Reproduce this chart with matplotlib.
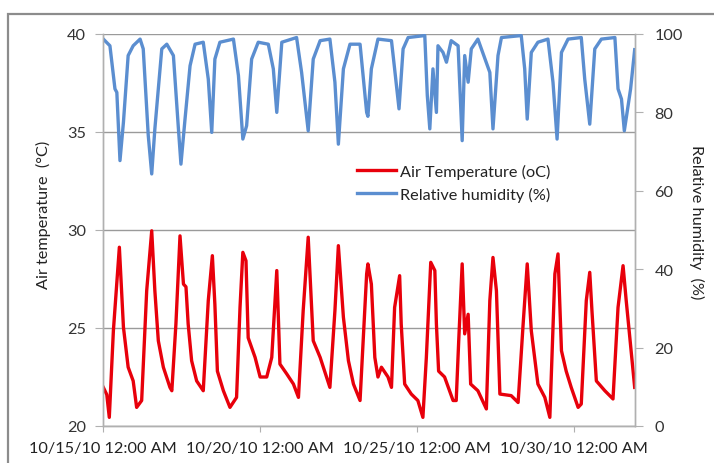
import datetime as dt
import matplotlib
matplotlib.use("Agg")
import matplotlib.pyplot as plt
import matplotlib.dates as mdates
from matplotlib.patches import Rectangle

# ---- data (days since 10/15/2010 00:00) ----
temp_days = [0.02, 0.13, 0.21, 0.34, 0.53, 0.66, 0.81, 0.97, 1.08, 1.24, 1.40, 1.56, 1.66, 1.77,
             1.93, 2.14, 2.20, 2.33, 2.46, 2.57, 2.65, 2.72, 2.83, 2.99, 3.20, 3.36, 3.49, 3.57,
             3.65, 3.84, 4.05, 4.26, 4.37, 4.46, 4.56, 4.63, 4.85, 5.01, 5.22, 5.38, 5.54, 5.64,
             5.86, 6.07, 6.23, 6.38, 6.54, 6.70, 6.92, 7.23, 7.39, 7.50, 7.66, 7.82, 7.98, 8.19,
             8.40, 8.44, 8.55, 8.66, 8.76, 8.87, 9.08, 9.19, 9.29, 9.45, 9.50, 9.61, 9.82, 10.03,
             10.19, 10.30, 10.44, 10.57, 10.62, 10.69, 10.88, 11.15, 11.25, 11.33, 11.44, 11.52,
             11.63, 11.71, 11.94, 12.21, 12.32, 12.42, 12.53, 12.64, 13.00, 13.22, 13.38, 13.51,
             13.64, 13.85, 14.07, 14.23, 14.39, 14.49, 14.60, 14.75, 14.91, 15.13, 15.23, 15.39,
             15.50, 15.57, 15.71, 15.98, 16.24, 16.40, 16.56, 16.66, 16.93]
temp_vals = [21.97, 21.6, 20.44, 24.86, 29.12, 25.04, 23.0, 22.3, 20.95, 21.3, 26.9, 29.96, 26.9, 24.35,
             23.0, 21.97, 21.8, 25.2, 29.7, 27.24, 27.1, 25.2, 23.33, 22.3, 21.8, 26.4, 28.69, 26.2,
             22.8, 21.8, 20.95, 21.46, 26.05, 28.86, 28.43, 24.5, 23.5, 22.5, 22.5, 23.5, 27.93, 23.16,
             22.65, 22.14, 21.46, 25.88, 29.63, 24.35, 23.5, 21.97, 25.88, 29.2, 25.55, 23.33, 22.14, 21.3,
             27.76, 28.27, 27.24, 23.5, 22.5, 23.0, 22.5, 21.97, 26.05, 27.67, 25.2, 22.14, 21.63, 21.3,
             20.44, 23.5, 28.35, 27.93, 25.2, 22.8, 22.5, 21.3, 21.3, 24.35, 28.27, 24.7,
             25.7, 22.14, 21.8, 20.87, 26.4, 28.6, 26.9, 21.63, 21.55, 21.2, 25.2, 28.27,
             24.86, 22.14, 21.46, 20.44, 27.76, 28.78, 23.84, 22.8, 21.97, 20.95, 21.12, 26.4,
             27.84, 25.88, 22.3, 21.8, 21.38, 26.05, 28.18, 26.4, 21.97]

rh_days = [0.02, 0.23, 0.39, 0.45, 0.55, 0.66, 0.81, 0.97, 1.19, 1.29, 1.45, 1.56, 1.66, 1.88,
           2.04, 2.25, 2.41, 2.49, 2.62, 2.78, 2.94, 3.20, 3.36, 3.47, 3.57, 3.73, 4.16, 4.32,
           4.46, 4.58, 4.74, 4.95, 5.27, 5.43, 5.54, 5.70, 6.17, 6.33, 6.54, 6.70, 6.92, 7.23,
           7.39, 7.50, 7.66, 7.87, 8.19, 8.40, 8.44, 8.55, 8.76, 9.19, 9.29, 9.43, 9.56, 9.72,
           10.25, 10.33, 10.41, 10.51, 10.62, 10.67, 10.83, 10.94, 11.09, 11.31, 11.44, 11.52,
           11.63, 11.73, 11.94, 12.32, 12.42, 12.58, 12.69, 13.32, 13.43, 13.51, 13.64, 13.85,
           14.17, 14.33, 14.46, 14.60, 14.81, 15.23, 15.34, 15.50, 15.66, 15.87, 16.30, 16.40,
           16.51, 16.60, 16.72, 16.80, 16.93]
rh_vals = [98.7, 97.0, 86.0, 85.1, 67.7, 77.5, 94.5, 97.0, 98.7, 96.2, 74.1, 64.3, 75.8, 96.2,
           97.4, 94.5, 75.8, 66.8, 78.3, 91.9, 97.4, 97.9, 88.5, 74.9, 93.6, 97.9, 98.7, 89.4,
           73.2, 76.6, 93.6, 97.9, 97.4, 91.1, 80.0, 97.9, 99.1, 90.2, 75.3, 93.6, 98.3, 98.7,
           87.7, 71.9, 91.1, 97.4, 97.4, 80.0, 79.0, 91.1, 98.7, 98.3, 91.1, 80.9, 96.2, 99.1,
           99.6, 84.3, 75.8, 91.1, 80.0, 97.0, 95.3, 92.8, 98.3, 97.0, 72.8, 94.5,
           87.7, 96.2, 98.7, 90.2, 75.8, 94.5, 99.1, 99.6, 91.1, 78.3, 95.3, 97.9,
           98.7, 87.7, 73.2, 95.3, 98.7, 99.1, 88.5, 77.0, 96.2, 98.7, 99.1, 86.0,
           83.4, 75.3, 81.7, 86.0, 96.0]

start_date = dt.datetime(2010, 10, 15)
x_max_days = 16.94
temp_label = "Air Temperature (oC)"
rh_label = "Relative humidity (%)"
left_ylabel = "Air temperature  (\u00b0C)"
right_ylabel = "Relative humidity  (%)"
left_ticks = [20, 25, 30, 35, 40]
right_ticks = [0, 20, 40, 60, 80, 100]
x_tick_days = [0, 5, 10, 15]

temp_t = [start_date + dt.timedelta(days=d) for d in temp_days]
rh_t = [start_date + dt.timedelta(days=d) for d in rh_days]

plt.rcParams['font.family'] = ['Lato', 'DejaVu Sans']

W, H = 714, 464
fig = plt.figure(figsize=(W / 100, H / 100), dpi=100)
fig.patch.set_facecolor('white')

# outer chart border
fig.patches.append(Rectangle((8 / W, -0.05), 1.1, (H - 15) / H + 0.05,
                             transform=fig.transFigure, fill=False,
                             edgecolor='#8c8c8c', linewidth=1.6))

ax = fig.add_axes([102.7 / W, 1 - 427 / H, (635 - 102.7) / W, (427 - 35) / H])
ax2 = ax.twinx()

red = '#e8000b'
blue = '#5b8ed0'
l1, = ax.plot(temp_t, temp_vals, color=red, lw=2.4, solid_joinstyle='round')
l2, = ax2.plot(rh_t, rh_vals, color=blue, lw=2.4, solid_joinstyle='round')

ax.set_ylim(20, 40)
ax2.set_ylim(0, 100)
ax.set_xlim(start_date, start_date + dt.timedelta(days=x_max_days))
ax.set_yticks(left_ticks)
ax2.set_yticks(right_ticks)
ax.set_xticks([start_date + dt.timedelta(days=d) for d in x_tick_days])
ax.xaxis.set_major_formatter(mdates.DateFormatter('%m/%d/%y %I:%M %p'))

fs = 11.7
gc = '#9a9a9a'
ax.grid(axis='y', color=gc, lw=1.0)
ax.set_axisbelow(True)
for a in (ax, ax2):
    a.spines['top'].set_visible(False)
    for s in ('left', 'right', 'bottom'):
        a.spines[s].set_color('#b0b0b0')
        a.spines[s].set_linewidth(1.0)
ax.tick_params(axis='y', direction='out', length=6, color='#b0b0b0', pad=6,
               labelsize=fs, labelcolor='#333333')
ax.tick_params(axis='x', direction='out', length=4, color='#b0b0b0', pad=7,
               labelsize=fs, labelcolor='#222222')
ax2.tick_params(axis='y', direction='out', length=6, color='#b0b0b0', pad=8,
                labelsize=fs, labelcolor='#333333')

fig.text(43 / W, 1 - 215 / H, left_ylabel, rotation=90, ha='center', va='center',
         fontsize=fs, color='#222222')
fig.text(697 / W, 1 - 222 / H, right_ylabel, rotation=-90, ha='center', va='center',
         fontsize=fs, color='#222222')

leg = ax2.legend([l1, l2], [temp_label, rh_label], loc='upper left',
                 bbox_to_anchor=(357 / W, 1 - 165 / H), bbox_transform=fig.transFigure,
                 frameon=False, fontsize=fs, handlelength=2.4, handletextpad=0.25,
                 labelspacing=0.48, borderpad=0, borderaxespad=0)
for t in leg.get_texts():
    t.set_color('#222222')

fig.savefig('out.png', dpi=100, facecolor='white')
